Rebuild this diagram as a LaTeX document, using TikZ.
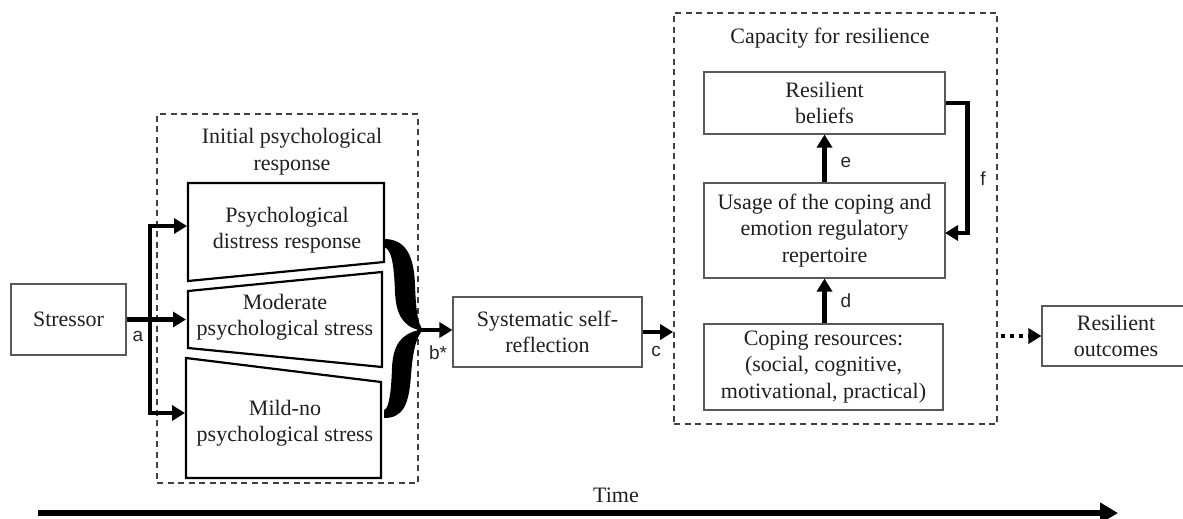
\documentclass[tikz,border=0pt]{standalone}
\usepackage{fontspec}
\setmainfont{Liberation Serif}
\newfontfamily\lblfont{Liberation Sans}
\usetikzlibrary{arrows.meta,calc}

\begin{document}
\begin{tikzpicture}[x=1pt,y=-1pt,
  txt/.style={align=center, inner sep=0pt, text=black!88, font=\fontsize{22}{26.5}\selectfont},
  box/.style={txt, draw=black!65, line width=1.1pt},
  trap/.style={draw=black, line width=2.2pt, line join=miter},
  dashbox/.style={draw=black!75, line width=1.6pt, dash pattern=on 6pt off 4.5pt, inner sep=0pt},
  lbl/.style={inner sep=0pt, text=black!85, font=\lblfont\fontsize{19}{22}\selectfont},
  arr/.style={draw=black, line width=4.5pt, line join=miter, -{Triangle[length=13pt,width=15pt]}},
  dotarr/.style={draw=black, line width=4.5pt, dash pattern=on 4pt off 5pt, -{Triangle[length=13pt,width=15pt]}},
  timearr/.style={draw=black, line width=6pt, -{Triangle[length=18pt,width=20pt]}}
]
\useasboundingbox (0,0) rectangle (1183,519);

% ---- stressor ----
\node[box, minimum width=115pt, minimum height=71pt] (stressor) at (68.5,319.5) {Stressor};

% ---- initial psychological response ----
\node[dashbox, minimum width=261pt, minimum height=369pt] (initial) at (287.5,298.5) {};
\node[txt] (initialT) at (292,151.5) {Initial psychological\\response};

\draw[trap] (188,183) -- (384,183) -- (384,262) -- (188,281) -- cycle;
\node[txt] (distress) at (287,230) {Psychological\\distress response};
\draw[trap] (188,291) -- (382,272) -- (382,367) -- (188,348) -- cycle;
\node[txt] (moderate) at (285,317) {Moderate\\psychological stress};
\draw[trap] (186,358) -- (381,382) -- (381,478) -- (186,478) -- cycle;
\node[txt] (mild) at (285,423) {Mild-no\\psychological stress};

% entry points on the left edges and the splitting trunk
\coordinate (in1) at (187,226);
\coordinate (in2) at (186,319.5);
\coordinate (in3) at (185,413);
\coordinate (trunkTop) at (150,226);
\coordinate (trunkBot) at (150,413);
\draw[arr] (stressor.east) -- (in2);
\draw[arr] (trunkBot) |- (in1);
\draw[arr] (trunkTop) |- (in3);
\node[lbl] (la) at (138,336) {a};

% ---- brace gathering the three responses ----
\coordinate (btip) at (421,330);
\fill[black]
  (384,239) .. controls (406,239) and (414,256) .. (415,285)
  .. controls (416,312) and (418,324) .. (423,330)
  .. controls (417,336) and (413,348) .. (411,375)
  .. controls (409,405) and (403,418) .. (384,418)
  -- (384,410)
  .. controls (388,409) and (391,398) .. (392,368)
  .. controls (393,345) and (401,334) .. (419,330)
  .. controls (402,326) and (396,313) .. (395,292)
  .. controls (394,262) and (391,249) .. (384,247) -- cycle;

% ---- self-reflection ----
\node[box, minimum width=189pt, minimum height=70pt] (sys) at (547.5,332) {Systematic self-\\reflection};
\draw[arr] (btip) -- (sys.west |- btip);
\node[lbl] (lb) at (438,353) {b*};

% ---- capacity for resilience ----
\node[dashbox, minimum width=323pt, minimum height=411pt] (cap) at (835.5,218.5) {};
\node[txt] (capT) at (830,38) {Capacity for resilience};

\node[box, minimum width=241pt, minimum height=62pt] (beliefs) at (824.5,103) {Resilient\\beliefs};
\node[box, minimum width=241pt, minimum height=95pt] (usage) at (824.5,230.5) {Usage of the coping and\\emotion regulatory\\repertoire};
\node[box, minimum width=239pt, minimum height=86pt] (coping) at (823.5,367) {Coping resources:\\(social, cognitive,\\motivational, practical)};

\draw[arr] (sys.east) -- (sys.east -| cap.west);
\node[lbl] (lc) at (656,351) {c};

\draw[arr] (coping.north -| usage.south) -- (usage.south);
\node[lbl] (ld) at (846,301) {d};
\draw[arr] (usage.north) -- (beliefs.south);
\node[lbl] (le) at (846,162) {e};

\coordinate (fin) at (945,233);
\draw[arr] (beliefs.east) -- ++(22,0) |- (fin);
\node[lbl] (lf) at (983,179) {f};

% ---- outcomes ----
\node[box, minimum width=148pt, minimum height=60pt] (outcomes) at (1116,336) {Resilient\\outcomes};
\draw[dotarr] ([xshift=3pt]cap.east |- outcomes.west) -- (outcomes.west);

% ---- time axis ----
\coordinate (t0) at (38,513);
\coordinate (t1) at (1118,513);
\draw[timearr] (t0) -- (t1);
\node[txt] (time) at (616,495) {Time};
\end{tikzpicture}
\end{document}
